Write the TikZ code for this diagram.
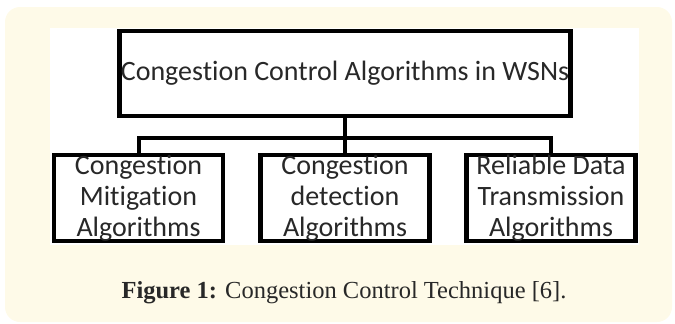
\documentclass[tikz,border=0pt]{standalone}
\usepackage{fontspec}
\setmainfont{Liberation Serif}
\newfontfamily\boxfont[Ligatures={NoCommon}]{Carlito}
\usetikzlibrary{positioning,calc}
\definecolor{mycream}{RGB}{254,250,232}
\definecolor{mytext}{RGB}{40,40,40}

\begin{document}
\begin{tikzpicture}[x=1pt,y=-1pt,
  every node/.style={inner sep=0pt,outer sep=0pt},
  topbox/.style={draw,line width=4.5pt,minimum width=451pt,minimum height=85pt,
    font=\boxfont\fontsize{28}{31}\selectfont,text=mytext},
  subbox/.style={draw,line width=4.5pt,minimum width=169pt,minimum height=85pt,
    align=center,font=\boxfont\fontsize{28}{31}\selectfont,text=mytext},
  link/.style={line width=4pt}
]
\useasboundingbox (0,0) rectangle (675,324);

% the frame
\fill[mycream,rounded corners=15pt] (5,7) rectangle (672,322);
\fill[white] (50,28) rectangle (639,245);

% the root
\node[topbox] (root) at (345,73.5) {Congestion Control Algorithms in WSNs};

% the classes
\node[subbox] (mitig) at (138.5,198) {Congestion\\Mitigation\\Algorithms};
\node[subbox] (detect) at (345,198) {Congestion\\detection\\Algorithms};
\node[subbox] (reliab) at (551,198) {Reliable Data\\Transmission\\Algorithms};

% the edges
\coordinate (bus) at (345,138);
\draw[link] (root.south) -- (detect.north);
\draw[link] (mitig.north) |- (bus) -| (reliab.north);

% the caption
\node[font=\fontsize{24.5}{28}\selectfont,text=mytext,anchor=base] (cap) at (344,298)
  {\textbf{Figure 1:} Congestion Control Technique [6].};
\end{tikzpicture}
\end{document}
